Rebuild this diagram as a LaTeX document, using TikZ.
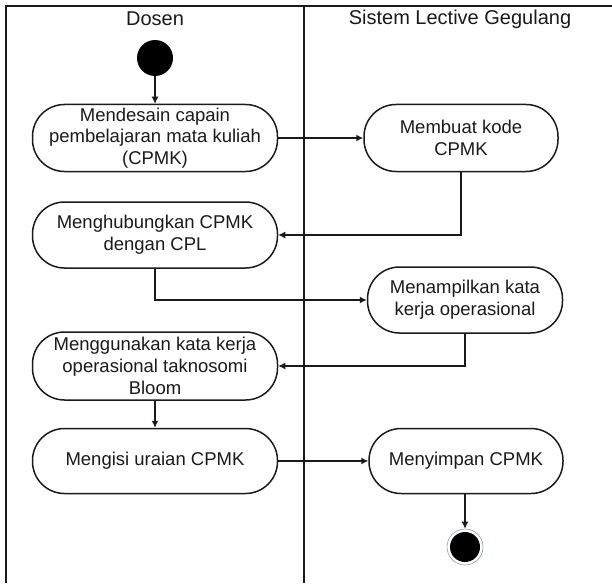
\documentclass[tikz,border=0pt]{standalone}
\usepackage{fontspec}
\setmainfont{Liberation Sans}
\usepackage{tikz}
\usetikzlibrary{arrows.meta}
\definecolor{ADInk}{HTML}{1A1A1A}
\definecolor{ADRing}{HTML}{8A9DBA}

\begin{document}
\begin{tikzpicture}[x=1pt,y=-1pt,
  aksi/.style={draw=ADInk,line width=1.5pt,rounded corners=32pt,inner sep=0pt,
    align=center,text=ADInk,font=\fontsize{18.5}{21.7}\selectfont},
  alur/.style={draw=ADInk,line width=1.3pt,-{Latex[length=7pt,width=7pt]}},
  lajur/.style={font=\fontsize{20}{24}\selectfont,text=ADInk}]
\path[use as bounding box] (0,0) rectangle (612,583);
% swimlanes
\draw[ADInk,line width=1.3pt] (6,583) -- (6,6) -- (612,6);
\draw[ADInk,line width=1.3pt] (304,6) -- (304,583);
\node[lajur] (dosen) at (155,19) {Dosen};
\node[lajur] (sistem) at (460,19) {Sistem Lective Gegulang};
% start / end
\node[circle,fill=black,minimum size=36pt,inner sep=0pt] (mulai) at (155,58) {};
\node[circle,draw=ADRing,line width=.6pt,minimum size=36pt,inner sep=0pt] (akhir) at (465,547) {};
\fill[black] (akhir.center) circle (15);
% activities
\node[aksi,minimum width=245pt,minimum height=67pt] (desain) at (155,138) {Mendesain capain\\pembelajaran mata kuliah\\(CPMK)};
\node[aksi,minimum width=194pt,minimum height=67pt] (kode) at (461,138) {Membuat kode\\CPMK};
\node[aksi,minimum width=245pt,minimum height=66pt] (hubung) at (155,235) {Menghubungkan CPMK\\dengan CPL};
\node[aksi,minimum width=195pt,minimum height=66pt] (tampil) at (465,300) {Menampilkan kata\\kerja operasional};
\node[aksi,minimum width=245pt,minimum height=68pt] (guna) at (155,366) {Menggunakan kata kerja\\operasional taknosomi\\Bloom};
\node[aksi,minimum width=245pt,minimum height=65pt] (isi) at (155,461) {Mengisi uraian CPMK};
\node[aksi,minimum width=194pt,minimum height=65pt] (simpan) at (466,461) {Menyimpan CPMK};
% flows
\draw[alur] (mulai) -- (desain);
\draw[alur] (desain) -- (kode);
\draw[alur] (kode.south) |- (hubung.east);
\draw[alur] (hubung.south) |- (tampil.west);
\draw[alur] (tampil.south) |- (guna.east);
\draw[alur] (guna) -- (isi);
\draw[alur] (isi) -- (simpan);
\draw[alur] (simpan.south -| akhir) -- (akhir);
\end{tikzpicture}
\end{document}
